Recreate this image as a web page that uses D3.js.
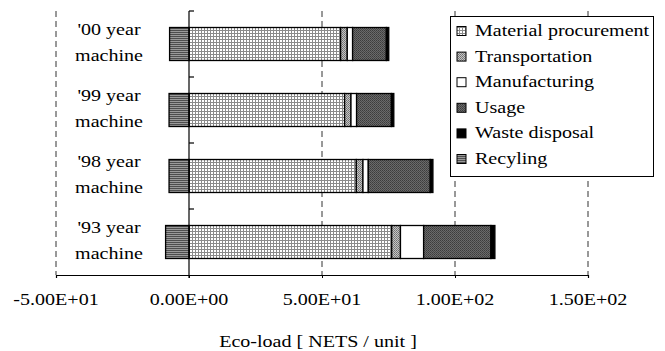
<!DOCTYPE html>
<html>
<head>
<meta charset="utf-8">
<script src="https://cdn.jsdelivr.net/npm/d3@7"></script>
<style>
  html, body { margin: 0; padding: 0; background: #fff; }
  svg text { font-family: "Liberation Serif", "Times New Roman", serif; fill: #000; }
</style>
</head>
<body>
<svg id="chart" width="665" height="351"></svg>
<script>
// Eco-load per life-cycle stage for each machine generation (NETS / unit)
const machines = ["'00 year machine", "'99 year machine", "'98 year machine", "'93 year machine"];
const materialProcurement = [57.0, 58.5, 62.9, 76.2];
const transportation      = [2.5, 2.4, 2.5, 3.3];
const manufacturing       = [2.0, 2.1, 2.0, 8.7];
const usage               = [12.7, 13.1, 23.3, 25.3];
const wasteDisposal       = [0.9, 0.9, 1.0, 1.5];
const recycling           = [-7.3, -7.5, -7.5, -8.8];
const xTicks = [-50, 0, 50, 100, 150];
const stageNames = ["Material procurement", "Transportation", "Manufacturing", "Usage", "Waste disposal", "Recyling"];

const svg = d3.select("#chart");
const FS = 17, SX = 1.18;   // serif text, slightly widened

const x = d3.scaleLinear().domain([-50, 150]).range([56, 588]);
const y = d3.scaleBand().domain(machines).range([11, 275]).paddingInner(0.5).paddingOuter(0.25);

// fill patterns
const defs = svg.append("defs");
function pat(id, w, h, draw) {
  const p = defs.append("pattern").attr("id", id).attr("patternUnits", "userSpaceOnUse")
    .attr("width", w).attr("height", h);
  draw(p);
}
pat("pMat", 3, 3, p => {
  p.append("rect").attr("width", 3).attr("height", 3).attr("fill", "#fff");
  p.append("rect").attr("width", 3).attr("height", 1).attr("fill", "#8a8a8a");
  p.append("rect").attr("width", 1).attr("height", 3).attr("fill", "#8a8a8a");
});
pat("pTrans", 2, 2, p => {
  p.append("rect").attr("width", 2).attr("height", 2).attr("fill", "#c4c4c4");
  p.append("rect").attr("width", 1).attr("height", 1).attr("fill", "#707070");
  p.append("rect").attr("x", 1).attr("y", 1).attr("width", 1).attr("height", 1).attr("fill", "#808080");
});
pat("pUse", 2, 2, p => {
  p.append("rect").attr("width", 2).attr("height", 2).attr("fill", "#6a6a6a");
  p.append("rect").attr("width", 1).attr("height", 1).attr("fill", "#3c3c3c");
  p.append("rect").attr("x", 1).attr("y", 1).attr("width", 1).attr("height", 1).attr("fill", "#484848");
});
pat("pRec", 3, 2, p => {
  p.append("rect").attr("width", 3).attr("height", 2).attr("fill", "#9a9a9a");
  p.append("rect").attr("width", 3).attr("height", 1).attr("fill", "#4e4e4e");
});
const fills = ["url(#pMat)", "url(#pTrans)", "#fff", "url(#pUse)", "#000", "url(#pRec)"];

function label(g, tx, ty, str, anchor) {
  return g.append("text")
    .attr("transform", `translate(${tx},${ty}) scale(${SX},1)`)
    .attr("text-anchor", anchor || "start")
    .attr("font-size", FS)
    .text(str);
}

// scientific tick text such as 5.00E+01, with a plain hyphen for negatives
function sci(v) {
  if (v === 0) return "0.00E+00";
  const s = d3.format(".2e")(Math.abs(v));           // e.g. 5.00e+1
  const [mant, ex] = s.split("e");
  const sign = ex[0] === "-" ? "-" : "+";
  const digits = ex.replace(/^[+-]/, "").padStart(2, "0");
  return (v < 0 ? "-" : "") + mant + "E" + sign + digits;
}

// gridlines (dashed) at non-zero ticks
svg.append("g").selectAll("line").data(xTicks.filter(d => d !== 0)).join("line")
  .attr("x1", d => x(d)).attr("x2", d => x(d))
  .attr("y1", 11).attr("y2", 275)
  .attr("stroke", "#333").attr("stroke-width", 1).attr("stroke-dasharray", "6,4");

// x axis
const xAxis = svg.append("g").attr("transform", "translate(0,275)")
  .call(d3.axisBottom(x).tickValues(xTicks).tickSize(3).tickFormat(""));
xAxis.select(".domain").attr("stroke", "#000").attr("stroke-width", 1.2);
xAxis.selectAll(".tick line").attr("stroke", "#000");

xTicks.forEach(v => label(svg, x(v), 305, sci(v), "middle"));
label(svg, 318, 347, "Eco-load [ NETS / unit ]", "middle");

// stacked segments: positive stages from 0, recycling to the left
const positive = [materialProcurement, transportation, manufacturing, usage, wasteDisposal];
const rows = machines.map((m, i) => {
  const segs = [];
  let acc = 0;
  positive.forEach((arr, k) => {
    segs.push({ m, k, x0: acc, x1: acc + arr[i] });
    acc += arr[i];
  });
  segs.push({ m, k: 5, x0: recycling[i], x1: 0 });
  return segs;
}).flat();

svg.append("g").selectAll("rect").data(rows).join("rect")
  .attr("x", d => x(d.x0)).attr("width", d => x(d.x1) - x(d.x0))
  .attr("y", d => y(d.m)).attr("height", y.bandwidth())
  .attr("fill", d => fills[d.k])
  .attr("stroke", "#000").attr("stroke-width", 1.3);

// category axis on the zero line
const yAxis = svg.append("g").attr("transform", `translate(${x(0)},0)`);
yAxis.append("line").attr("x1", 0).attr("x2", 0).attr("y1", 11).attr("y2", 278)
  .attr("stroke", "#000").attr("stroke-width", 1.2);
const bounds = machines.map(m => y(m) - y.step() * y.paddingInner() / 2);
yAxis.selectAll("line.t").data(bounds).join("line").attr("class", "t")
  .attr("x1", 0).attr("x2", 5).attr("y1", d => d).attr("y2", d => d)
  .attr("stroke", "#000").attr("stroke-width", 1.2);

// category labels, two lines
machines.forEach(m => {
  const c = y(m) + y.bandwidth() / 2;
  const parts = m.split(" ");
  label(svg, 109, c - 9, parts[0] + " " + parts[1], "middle");
  label(svg, 109, c + 17, parts[2], "middle");
});

// legend
const lg = svg.append("g");
lg.append("rect").attr("x", 450.5).attr("y", 16.5).attr("width", 203).attr("height", 160)
  .attr("fill", "#fff").attr("stroke", "#000").attr("stroke-width", 1);
stageNames.forEach((n, k) => {
  const by = 36 + k * 25.6;
  lg.append("rect").attr("x", 457).attr("y", by - 9.5).attr("width", 9).attr("height", 9)
    .attr("fill", fills[k]).attr("stroke", "#000").attr("stroke-width", 1);
  label(lg, 475, by, n);
});
</script>
</body>
</html>
